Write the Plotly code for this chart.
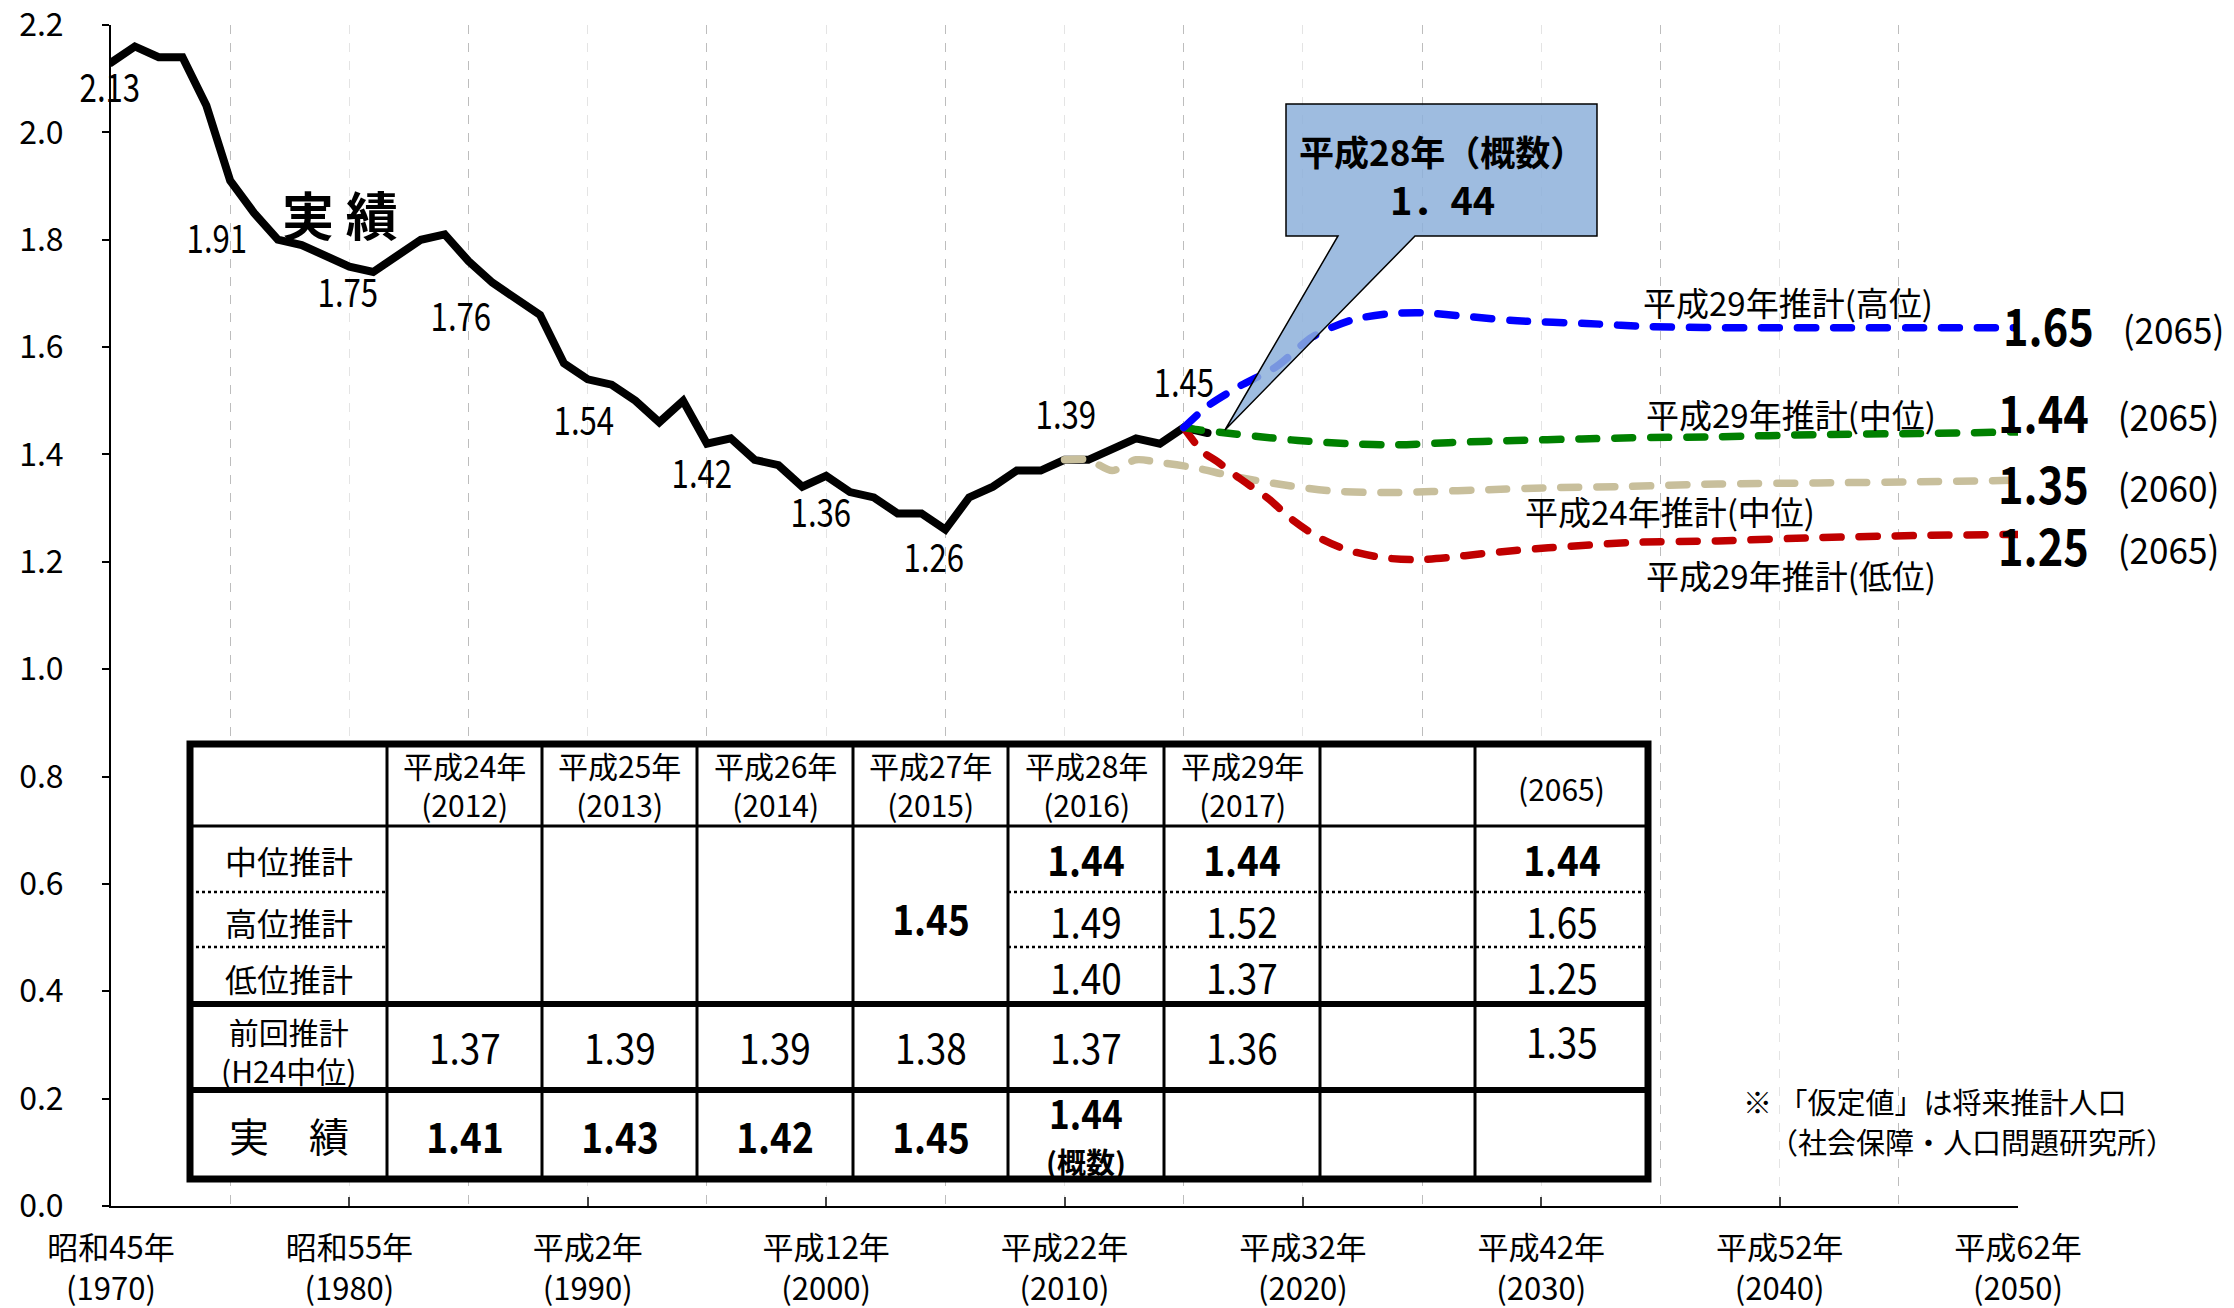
import json
import plotly.graph_objects as go

# ---------------- data ----------------
years_actual = list(range(1970, 2017))
tfr_actual = [2.13, 2.16, 2.14, 2.14, 2.05, 1.91, 1.85, 1.80, 1.79, 1.77,
              1.75, 1.74, 1.77, 1.80, 1.81, 1.76, 1.72, 1.69, 1.66, 1.57,
              1.54, 1.53, 1.50, 1.46, 1.50, 1.42, 1.43, 1.39, 1.38, 1.34,
              1.36, 1.33, 1.32, 1.29, 1.29, 1.26, 1.32, 1.34, 1.37, 1.37,
              1.39, 1.39, 1.41, 1.43, 1.42, 1.45, 1.44]
label_years = [1970, 1975, 1980, 1985, 1990, 1995, 2000, 2005, 2010, 2015]

# projections, positions on the chart's time axis
high_x = [2015, 2016, 2017.3, 2018.9, 2020.4, 2022.1, 2023.6, 2025.0, 2026.9, 2029.0,
          2031.9, 2034.6, 2038.8, 2043.0, 2046.8, 2050]
high_y = [1.45, 1.49, 1.526, 1.564, 1.619, 1.651, 1.662, 1.664, 1.657, 1.649,
          1.644, 1.638, 1.636, 1.636, 1.636, 1.636]
mid_x = [2015, 2015.6, 2016.6, 2018.2, 2019.8, 2021.9, 2024.0, 2026.1, 2028.9, 2031.7,
         2033.8, 2037.4, 2041.6, 2045.8, 2050]
mid_y = [1.45, 1.446, 1.441, 1.433, 1.426, 1.420, 1.418, 1.422, 1.426, 1.429,
         1.431, 1.433, 1.437, 1.439, 1.442]
low_x = [2015, 2015.8, 2016.4, 2017.3, 2018.6, 2019.4, 2020.6, 2021.8, 2023.3, 2024.7,
         2026.1, 2027.5, 2028.9, 2030.3, 2033.8, 2037.4, 2041.6, 2045.8, 2050]
low_y = [1.45, 1.405, 1.387, 1.357, 1.316, 1.284, 1.247, 1.223, 1.208, 1.204,
         1.208, 1.215, 1.221, 1.226, 1.236, 1.239, 1.245, 1.249, 1.251]
prev_x = [2010, 2011, 2012, 2013, 2014, 2015.5, 2017, 2019.1, 2021.2, 2023.3,
          2025.4, 2027.5, 2030.3, 2033.2, 2037.4, 2041.6, 2045.8, 2050]
prev_y = [1.39, 1.39, 1.37, 1.39, 1.385, 1.375, 1.36, 1.344, 1.332, 1.329,
          1.331, 1.334, 1.338, 1.340, 1.345, 1.347, 1.349, 1.352]

series_names = ["平成29年推計(高位)", "平成29年推計(中位)", "平成24年推計(中位)", "平成29年推計(低位)"]
end_values = [1.65, 1.44, 1.35, 1.25]
end_years = ["(2065)", "(2065)", "(2060)", "(2065)"]

y_ticks = [0.0, 0.2, 0.4, 0.6, 0.8, 1.0, 1.2, 1.4, 1.6, 1.8, 2.0, 2.2]
tick_years = [1970, 1980, 1990, 2000, 2010, 2020, 2030, 2040, 2050]
tick_era = ["昭和45年", "昭和55年", "平成2年", "平成12年", "平成22年",
            "平成32年", "平成42年", "平成52年", "平成62年"]
minor_years = [1975, 1985, 1995, 2005, 2015, 2025, 2035, 2045]

# table
tbl_head1 = ["平成24年", "平成25年", "平成26年", "平成27年", "平成28年", "平成29年", "", ""]
tbl_head2 = ["(2012)", "(2013)", "(2014)", "(2015)", "(2016)", "(2017)", "", "(2065)"]
tbl_rowlab = ["中位推計", "高位推計", "低位推計"]
tbl_mid = [None, None, None, None, 1.44, 1.44, None, 1.44]
tbl_high = [None, None, None, None, 1.49, 1.52, None, 1.65]
tbl_low = [None, None, None, None, 1.40, 1.37, None, 1.25]
tbl_base2015 = 1.45
tbl_prev = [1.37, 1.39, 1.39, 1.38, 1.37, 1.36, None, 1.35]
tbl_act = [1.41, 1.43, 1.42, 1.45, 1.44, None, None, None]

callout_title = "平成28年（概数）"
callout_value = "1．44"
note_lines = ["※ 「仮定値」は将来推計人口", "（社会保障・人口問題研究所）"]

# ---------------- layout helpers ----------------
W, H = 2234, 1308
PL, PR, PT, PB = 111, 2018, 25, 1206
JP = "Noto Sans CJK JP"
NUM = "Noto Sans CJK JP"
NUM_DY = -4   # small vertical correction for digit glyphs


def px(x):
    return (x - PL) / (PR - PL)


def py(y):
    return (PB - y) / (PB - PT)


fig = go.Figure()

dash = "18px,18px"
lw = 7.5
fig.add_trace(go.Scatter(x=years_actual, y=tfr_actual, mode="lines", name="実績",
                         line=dict(color="black", width=8)))
fig.add_trace(go.Scatter(x=prev_x, y=prev_y, mode="lines", name=series_names[2],
                         line=dict(color="#c8bf9c", width=lw, dash=dash, shape="spline", smoothing=0.8)))
fig.add_trace(go.Scatter(x=low_x, y=low_y, mode="lines", name=series_names[3],
                         line=dict(color="#c00000", width=lw, dash=dash, shape="spline", smoothing=0.8)))
fig.add_trace(go.Scatter(x=mid_x, y=mid_y, mode="lines", name=series_names[1],
                         line=dict(color="#008000", width=lw, dash=dash, shape="spline", smoothing=0.8)))
fig.add_trace(go.Scatter(x=high_x, y=high_y, mode="lines", name=series_names[0],
                         line=dict(color="#0000ff", width=lw, dash=dash, shape="spline", smoothing=0.8)))

ann = []
squeeze = {}   # annotation index -> horizontal text scale (narrow digit face)


def text_at(x, y, text, size, fam=JP, bold=False, anchor="center", sx=None):
    t = f"<b>{text}</b>" if bold else text
    if sx is not None:
        squeeze[str(len(ann))] = sx
        y = y + NUM_DY
    ann.append(dict(x=px(x), y=py(y), xref="paper", yref="paper", text=t, showarrow=False,
                    xanchor=anchor, yanchor="middle",
                    font=dict(family=fam, size=size, color="black")))


# data labels on the actual series
lab_off = [(-1, 25), (-13, 58), (-1, 26), (-8, 56), (-4, 42), (-5, 30),
           (-5, 37), (-11, 28), (1, -45), (0, -45)]
for yr, (dx, dy) in zip(label_years, lab_off):
    v = tfr_actual[years_actual.index(yr)]
    squeeze[str(len(ann))] = 0.8
    ann.append(dict(x=yr, y=v, xref="x", yref="y", text=f"{v:.2f}", showarrow=False,
                    xanchor="center", yanchor="middle",
                    xshift=dx, yshift=-(dy - 3), font=dict(family=NUM, size=39, color="black")))

text_at(340, 214, "実 績", 52, bold=True)

# series names
name_pos = [(1788, 302), (1791, 414), (1670, 511), (1791, 575)]
for nm, (x, y) in zip(series_names, name_pos):
    text_at(x, y, nm, 33)

# end values
end_pos = [(2048, 328, 2173, 332), (2043, 415, 2168, 419), (2043, 486, 2168, 490), (2043, 548, 2168, 552)]
for v, yrs, (x1, y1, x2, y2) in zip(end_values, end_years, end_pos):
    text_at(x1, y1, f"{v:.2f}", 51, NUM, True, sx=0.85)
    text_at(x2, y2, yrs, 37, NUM, sx=0.95)

shapes = []
# callout
cpts = [(1286, 104), (1597, 104), (1597, 236), (1415, 236), (1225, 430), (1338, 236), (1286, 236)]
path = "M " + " L ".join(f"{px(x):.5f},{py(y):.5f}" for x, y in cpts) + " Z"
shapes.append(dict(type="path", path=path, xref="paper", yref="paper", layer="above",
                   fillcolor="rgba(141,176,219,0.85)", line=dict(color="black", width=1.5)))
text_at(1442, 150, callout_title, 35, bold=True)
text_at(1442, 198, callout_value, 38, bold=True)

# table
TC = [190, 387, 542, 697, 853, 1008, 1164, 1320, 1475, 1648]
TR = [744, 826, 892, 947, 1004, 1090, 1179]


def hline(y, x0, x1, w, d="solid"):
    shapes.append(dict(type="line", xref="paper", yref="paper", layer="above",
                       x0=px(x0), x1=px(x1), y0=py(y), y1=py(y),
                       line=dict(color="black", width=w, dash=d)))


def vline(x, y0, y1, w):
    shapes.append(dict(type="line", xref="paper", yref="paper", layer="above",
                       x0=px(x), x1=px(x), y0=py(y0), y1=py(y1),
                       line=dict(color="black", width=w)))


shapes.append(dict(type="rect", xref="paper", yref="paper", layer="above",
                   x0=px(TC[0]), x1=px(TC[-1]), y0=py(TR[-1]), y1=py(TR[0]),
                   fillcolor="white", line=dict(width=0)))
for c in TC[1:-1]:
    vline(c, TR[0], TR[-1], 3)
hline(TR[1], TC[0], TC[-1], 3)
for r in (TR[2], TR[3]):
    hline(r, TC[0], TC[1], 2.5, "dot")
    hline(r, TC[5], TC[-1], 2.5, "dot")
hline(TR[4], TC[0], TC[-1], 6)
hline(TR[5], TC[0], TC[-1], 6)
shapes.append(dict(type="rect", xref="paper", yref="paper", layer="above",
                   x0=px(TC[0]), x1=px(TC[-1]), y0=py(TR[-1]), y1=py(TR[0]),
                   line=dict(color="black", width=7)))

ccen = [(TC[i] + TC[i + 1]) / 2 for i in range(len(TC) - 1)]
for i, (h1, h2) in enumerate(zip(tbl_head1, tbl_head2)):
    cx = ccen[i + 1]
    if h1:
        text_at(cx, 784, f"{h1}<br>{h2}", 30)
    elif h2:
        text_at(cx, 788, h2, 30)
for lab, y in zip(tbl_rowlab, [860, 922, 978]):
    text_at(ccen[0], y, lab, 32)
text_at(ccen[0], 1050, "前回推計<br>(H24中位)", 30)
text_at(ccen[0], 1135, "実　績", 40)

NS = 0.88
for row, y, bold in ((tbl_mid, 862, True), (tbl_high, 923, False), (tbl_low, 979, False)):
    for i, v in enumerate(row):
        if v is not None:
            text_at(ccen[i + 1], y, f"{v:.2f}", 42, NUM, bold, sx=NS)
text_at(ccen[4], 920, f"{tbl_base2015:.2f}", 42, NUM, True, sx=NS)
for i, v in enumerate(tbl_prev):
    if v is not None:
        text_at(ccen[i + 1], 1043 if i == 7 else 1049, f"{v:.2f}", 42, NUM, sx=NS)
for i, v in enumerate(tbl_act):
    if v is not None:
        if i == 4:
            text_at(ccen[i + 1], 1116, f"{v:.2f}", 40, NUM, True, sx=NS)
            text_at(ccen[i + 1], 1161, "(概数)", 29, JP, True)
        else:
            text_at(ccen[i + 1], 1138, f"{v:.2f}", 42, NUM, True, sx=NS)

# note
text_at(1741, 1101, note_lines[0], 29, anchor="left")
text_at(1767, 1141, note_lines[1], 29, anchor="left")

fig.update_layout(
    width=W, height=H,
    margin=dict(l=PL, r=W - PR, t=PT, b=H - PB, pad=0),
    plot_bgcolor="white", paper_bgcolor="white", showlegend=False,
    annotations=ann, shapes=shapes,
    xaxis=dict(range=[1970, 2050], tickmode="array", tickvals=tick_years,
               ticktext=[f"{e}<br>({y})" for e, y in zip(tick_era, tick_years)],
               ticks="inside", ticklen=9, tickwidth=1.5, tickcolor="#444",
               showline=True, linecolor="black", linewidth=2,
               showgrid=True, gridcolor="#e4e4e4", griddash="dash", gridwidth=1.3,
               minor=dict(tickmode="array", tickvals=minor_years,
                          showgrid=True, gridcolor="#bdbdbd", griddash="dash", gridwidth=1.3, ticks=""),
               zeroline=False, automargin=False, ticklabelstandoff=14,
               ticklabeloverflow="allow",
               tickfont=dict(family=JP, size=31, color="black")),
    yaxis=dict(range=[0, 2.2], tickmode="array", tickvals=y_ticks,
               ticktext=[f"{v:.1f}" for v in y_ticks],
               ticks="outside", ticklen=7, tickwidth=1.5, tickcolor="black",
               showline=True, linecolor="black", linewidth=2, showgrid=False, zeroline=False,
               automargin=False, ticklabelstandoff=32, ticklabeloverflow="allow",
               tickfont=dict(family=JP, size=32, color="black")),
)

post = ("document.body.style.margin='0';document.body.style.overflow='hidden';"
        "document.querySelectorAll('.scatterlayer path.js-line').forEach(function(p){"
        "p.style.strokeLinecap='round';});"
        "var sq=" + json.dumps(squeeze) + ";"
        "document.querySelectorAll('g.annotation').forEach(function(g){"
        "var k=g.getAttribute('data-index');if(sq[k]!==undefined){"
        "var t=g.querySelector('text');if(t){t.style.transformBox='fill-box';"
        "t.style.transformOrigin='center';t.style.transform='scaleX('+sq[k]+')';}}});")
fig.write_html("out.html", config={"displayModeBar": False}, post_script=post)
